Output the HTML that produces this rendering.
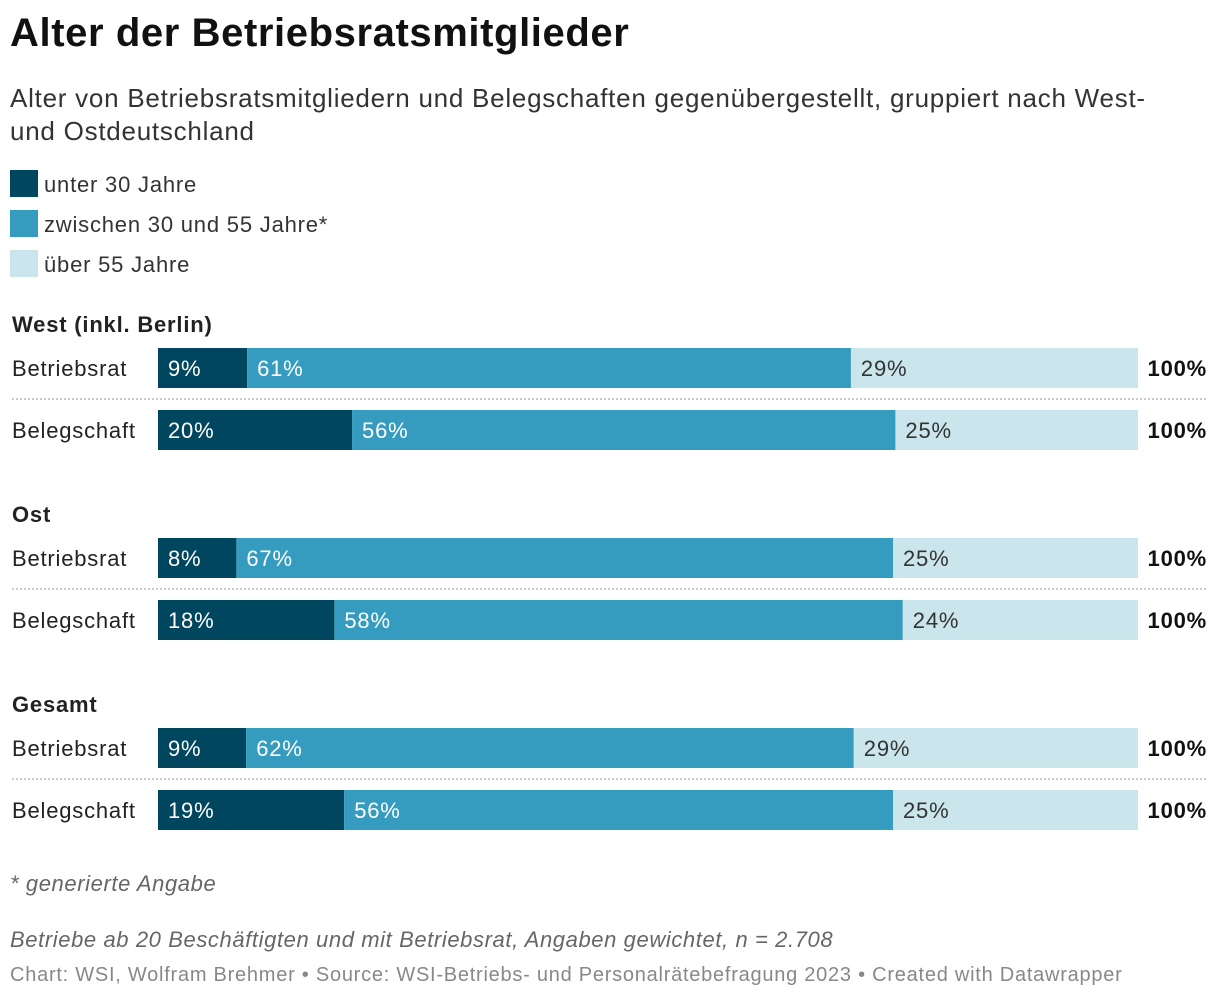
<!DOCTYPE html>
<html><head><meta charset="utf-8">
<style>
body{margin:0;width:1220px;height:1002px;background:#fff;font-family:"Liberation Sans",sans-serif;color:#222;position:relative;overflow:hidden}
.abs{position:absolute;white-space:nowrap}
svg text{letter-spacing:0.8px}
</style></head><body>
<div class="abs" style="left:10px;top:11px;font-size:40px;letter-spacing:0.6px;font-weight:bold;color:#111">Alter der Betriebsratsmitglieder</div>
<div class="abs" style="left:10px;top:82px;font-size:26px;letter-spacing:0.75px;line-height:33px;color:#333">Alter von Betriebsratsmitgliedern und Belegschaften gegenübergestellt, gruppiert nach West-<br>und Ostdeutschland</div>
<svg id="chart" width="1220" height="1002" style="position:absolute;left:0;top:0"></svg>
<div class="abs" style="left:10px;top:871px;font-size:22px;letter-spacing:0.6px;font-style:italic;color:#666">* generierte Angabe</div>
<div class="abs" style="left:10px;top:927px;font-size:22px;letter-spacing:0.6px;font-style:italic;color:#666">Betriebe ab 20 Beschäftigten und mit Betriebsrat, Angaben gewichtet, n = 2.708</div>
<div class="abs" style="left:10px;top:964px;font-size:20px;letter-spacing:0.75px;color:#888">Chart: WSI, Wolfram Brehmer • Source: WSI-Betriebs- und Personalrätebefragung 2023 • Created with Datawrapper</div>
<script>
const groups=["West (inkl. Berlin)","Ost","Gesamt"];
const rowLabels=["Betriebsrat","Belegschaft"];
const under30=[9,20,8,18,9,19];
const mid=[61,56,67,58,62,56];
const over55=[29,25,25,24,29,25];
const totals=["100%","100%","100%","100%","100%","100%"];
const seriesNames=["unter 30 Jahre","zwischen 30 und 55 Jahre*","über 55 Jahre"];
const colors=["#00465f","#359cbf","#cbe5ed"];
const textColors=["#fff","#fff","#333"];
const NS="http://www.w3.org/2000/svg";
const svg=document.getElementById('chart');
const x0=158,W=980,barH=40;
function xs(v,sum){return W*v/sum;}
function mk(tag,attrs){const e=document.createElementNS(NS,tag);for(const k in attrs)e.setAttribute(k,attrs[k]);svg.appendChild(e);return e;}
seriesNames.forEach((n,i)=>{
  const y=170+i*40;
  const r=mk('rect',{x:10,y:y,width:28,height:27,fill:colors[i]});
  
  
  const t=mk('text',{x:44,y:y+22,'font-size':22,fill:'#333'});t.textContent=n;
  
  
});
groups.forEach((g,gi)=>{
  const gy=gi*190;
  const gt=mk('text',{x:12,y:332+gy,'font-size':22,'font-weight':'bold',fill:'#222'});gt.textContent=g;
  
  
  const sep=mk('line',{x1:12,x2:1208,y1:399+gy,y2:399+gy,stroke:'#bbb','stroke-width':1.5,'stroke-dasharray':'2,2'});
  
  
  rowLabels.forEach((rl,ri)=>{
    const idx=gi*2+ri;
    const top=348+gy+ri*62;
    const lab=mk('text',{x:12,y:top+28,'font-size':22,fill:'#222'});lab.textContent=rl;
    
    
    const vals=[under30[idx],mid[idx],over55[idx]];
    const sum=vals[0]+vals[1]+vals[2];
    let x=x0;
    vals.forEach((v,si)=>{
      const w=xs(v,sum);
      const r=mk('rect',{x:x,y:top,width:w,height:barH,fill:colors[si]});
      
      
      const t=mk('text',{x:x+10,y:top+28,'font-size':22,fill:textColors[si]});t.textContent=v+'%';
      
      
      x+=w;
    });
    const tt=mk('text',{x:1207,y:top+28,'font-size':22,'font-weight':'bold','text-anchor':'end',fill:'#111'});tt.textContent=totals[idx];
    
    
  });
});
</script>
</body></html>
